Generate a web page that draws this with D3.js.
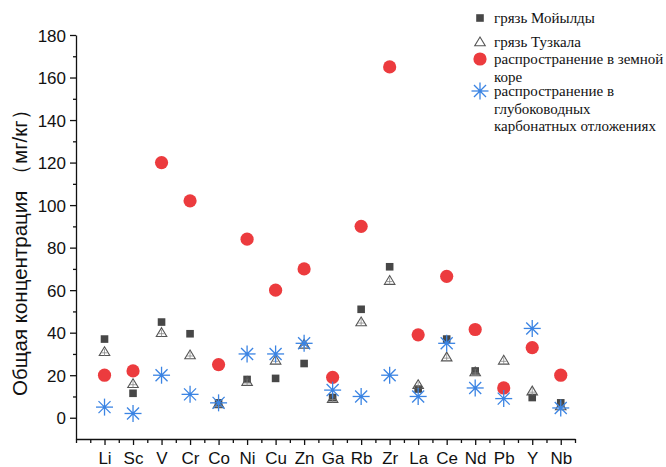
<!DOCTYPE html>
<html>
<head>
<meta charset="utf-8">
<script src="https://cdn.jsdelivr.net/npm/d3@7"></script>
<style>
  body { margin: 0; background: #fff; }
  .tick-label { font-family: "Liberation Sans", Arial, sans-serif; font-size: 17px; fill: #111; }
  .axis-label { font-family: "Liberation Sans", Arial, sans-serif; font-size: 20.5px; fill: #111; }
  .legend-text { font-family: "Liberation Serif", "Times New Roman", serif; font-size: 15px; fill: #111; }
</style>
</head>
<body>
<div id="chart"></div>
<script>
// categories (elements)
const elements = ["Li", "Sc", "V", "Cr", "Co", "Ni", "Cu", "Zn", "Ga", "Rb", "Zr", "La", "Ce", "Nd", "Pb", "Y", "Nb"];

// грязь Мойылды (squares)
const moyildy = [37, 11.5, 45, 39.5, 7, 18, 18.5, 25.5, 9.5, 51, 71, 13.5, 37, 22, 14, 9.5, 7];
// грязь Тузкала (triangles)
const tuzkala = [31, 16, 40, 29.5, 6.5, 17, 27, 34.5, 9, 45, 64.5, 15.5, 28.5, 21.5, 27, 12.5, 5.5];
// распространение в земной коре (red circles)
const crust = [20, 22, 120, 102, 25, 84, 60, 70, 19, 90, 165, 39, 66.5, 41.5, 14, 33, 20];
// распространение в глубоководных карбонатных отложениях (blue stars)
const deepSea = [5, 2, 20, 11, 7, 30, 30, 35, 13, 10, 20, 10, 35, 14, 9, 42, 4.6];

const yTicks = [0, 20, 40, 60, 80, 100, 120, 140, 160, 180];
const yLabel = "Общая концентрация （мг/кг）";
const legendLabels = [
  ["грязь Мойылды"],
  ["грязь Тузкала"],
  ["распространение в земной", "коре"],
  ["распространение в", "глубоководных", "карбонатных отложениях"]
];

const W = 666, H = 467;
const colSquare = "#474747", colTri = "#555", colRed = "#ec3b3e", colBlue = "#3b84e3";

const svg = d3.select("#chart").append("svg")
  .attr("width", W).attr("height", H);

// scales
const xScale = d3.scaleLinear().domain([0, 17.5]).range([76, 575]);
const yScale = d3.scaleLinear().domain([-10, 180]).range([439, 35]);

// y axis (major + minor ticks)
const yAxisG = svg.append("g")
  .attr("transform", `translate(${xScale(0)},0)`)
  .call(d3.axisLeft(yScale).tickValues(yTicks).tickSize(6).tickSizeOuter(0).tickPadding(4));
yAxisG.selectAll("text").attr("class", "tick-label").attr("font-size", null).attr("font-family", null).attr("dy", "0.36em");
svg.append("g")
  .attr("transform", `translate(${xScale(0)},0)`)
  .call(d3.axisLeft(yScale).tickValues(d3.range(10, 180, 20)).tickSize(3).tickFormat(""))
  .select(".domain").remove();

// x axis (major + minor ticks)
const xAxisG = svg.append("g")
  .attr("transform", `translate(0,${yScale(-10)})`)
  .call(d3.axisBottom(xScale).tickValues(d3.range(1, 18)).tickSize(6).tickSizeOuter(0)
    .tickPadding(7).tickFormat(d => elements[d - 1]));
xAxisG.selectAll("text").attr("class", "tick-label").attr("font-size", null).attr("font-family", null);
svg.append("g")
  .attr("transform", `translate(0,${yScale(-10)})`)
  .call(d3.axisBottom(xScale).tickValues(d3.range(0, 18, 1).map(d => d + 0.5).filter(d => d <= 17.5).concat([0])).tickSize(4).tickFormat(""))
  .select(".domain").remove();

svg.selectAll(".domain, .tick line").attr("stroke", "#111").attr("stroke-width", 1.3);

// y label
svg.append("text")
  .attr("class", "axis-label")
  .attr("text-anchor", "middle")
  .attr("transform", `translate(27, ${yScale(80)}) rotate(-90)`)
  .text(yLabel);

// marker helpers
function drawSquare(g, x, y) {
  g.append("rect").attr("x", x - 3.8).attr("y", y - 3.8).attr("width", 7.6).attr("height", 7.6)
    .attr("fill", colSquare);
}
function drawTriangle(g, x, y, inner) {
  const s = 5;
  g.append("path")
    .attr("d", `M${x},${y - s}L${x + s * 1.05},${y + s * 0.75}L${x - s * 1.05},${y + s * 0.75}Z`)
    .attr("fill", "none").attr("stroke", colTri).attr("stroke-width", 1.1);
  if (inner) {
    g.append("path")
      .attr("d", `M${x},${y - s + 2}V${y + s * 0.75}M${x - 3},${y + 1}H${x + 3}`)
      .attr("stroke", "#888").attr("stroke-width", 0.8);
  }
}
function drawCircle(g, x, y) {
  g.append("circle").attr("cx", x).attr("cy", y).attr("r", 6.6).attr("fill", colRed);
}
function drawStar(g, x, y) {
  const r = 8.5;
  [0, 45, 90, 135].forEach(a => {
    const rad = a * Math.PI / 180;
    g.append("line")
      .attr("x1", x - r * Math.cos(rad)).attr("y1", y - r * Math.sin(rad))
      .attr("x2", x + r * Math.cos(rad)).attr("y2", y + r * Math.sin(rad))
      .attr("stroke", colBlue).attr("stroke-width", 1.3);
  });
  g.append("circle").attr("cx", x).attr("cy", y).attr("r", 1.8).attr("fill", colBlue);
}

// points
const plot = svg.append("g");
moyildy.forEach((v, i) => drawSquare(plot, xScale(i + 1), yScale(v)));
tuzkala.forEach((v, i) => drawTriangle(plot, xScale(i + 1), yScale(v), true));
crust.forEach((v, i) => drawCircle(plot, xScale(i + 1), yScale(v)));
deepSea.forEach((v, i) => drawStar(plot, xScale(i + 1), yScale(v)));

// legend
const legend = svg.append("g");
const markerX = 480, textX = 494;
const rows = [18, 42, 59, 91];
const lineH = 17.3;
const drawers = [
  (g, x, y) => drawSquare(g, x, y),
  (g, x, y) => drawTriangle(g, x, y, false),
  (g, x, y) => drawCircle(g, x, y),
  (g, x, y) => drawStar(g, x, y)
];
legendLabels.forEach((lines, i) => {
  drawers[i](legend, markerX, rows[i]);
  lines.forEach((t, j) => {
    legend.append("text")
      .attr("class", "legend-text")
      .attr("x", textX)
      .attr("y", rows[i] + j * lineH)
      .attr("dy", "0.35em")
      .text(t);
  });
});
</script>
</body>
</html>
